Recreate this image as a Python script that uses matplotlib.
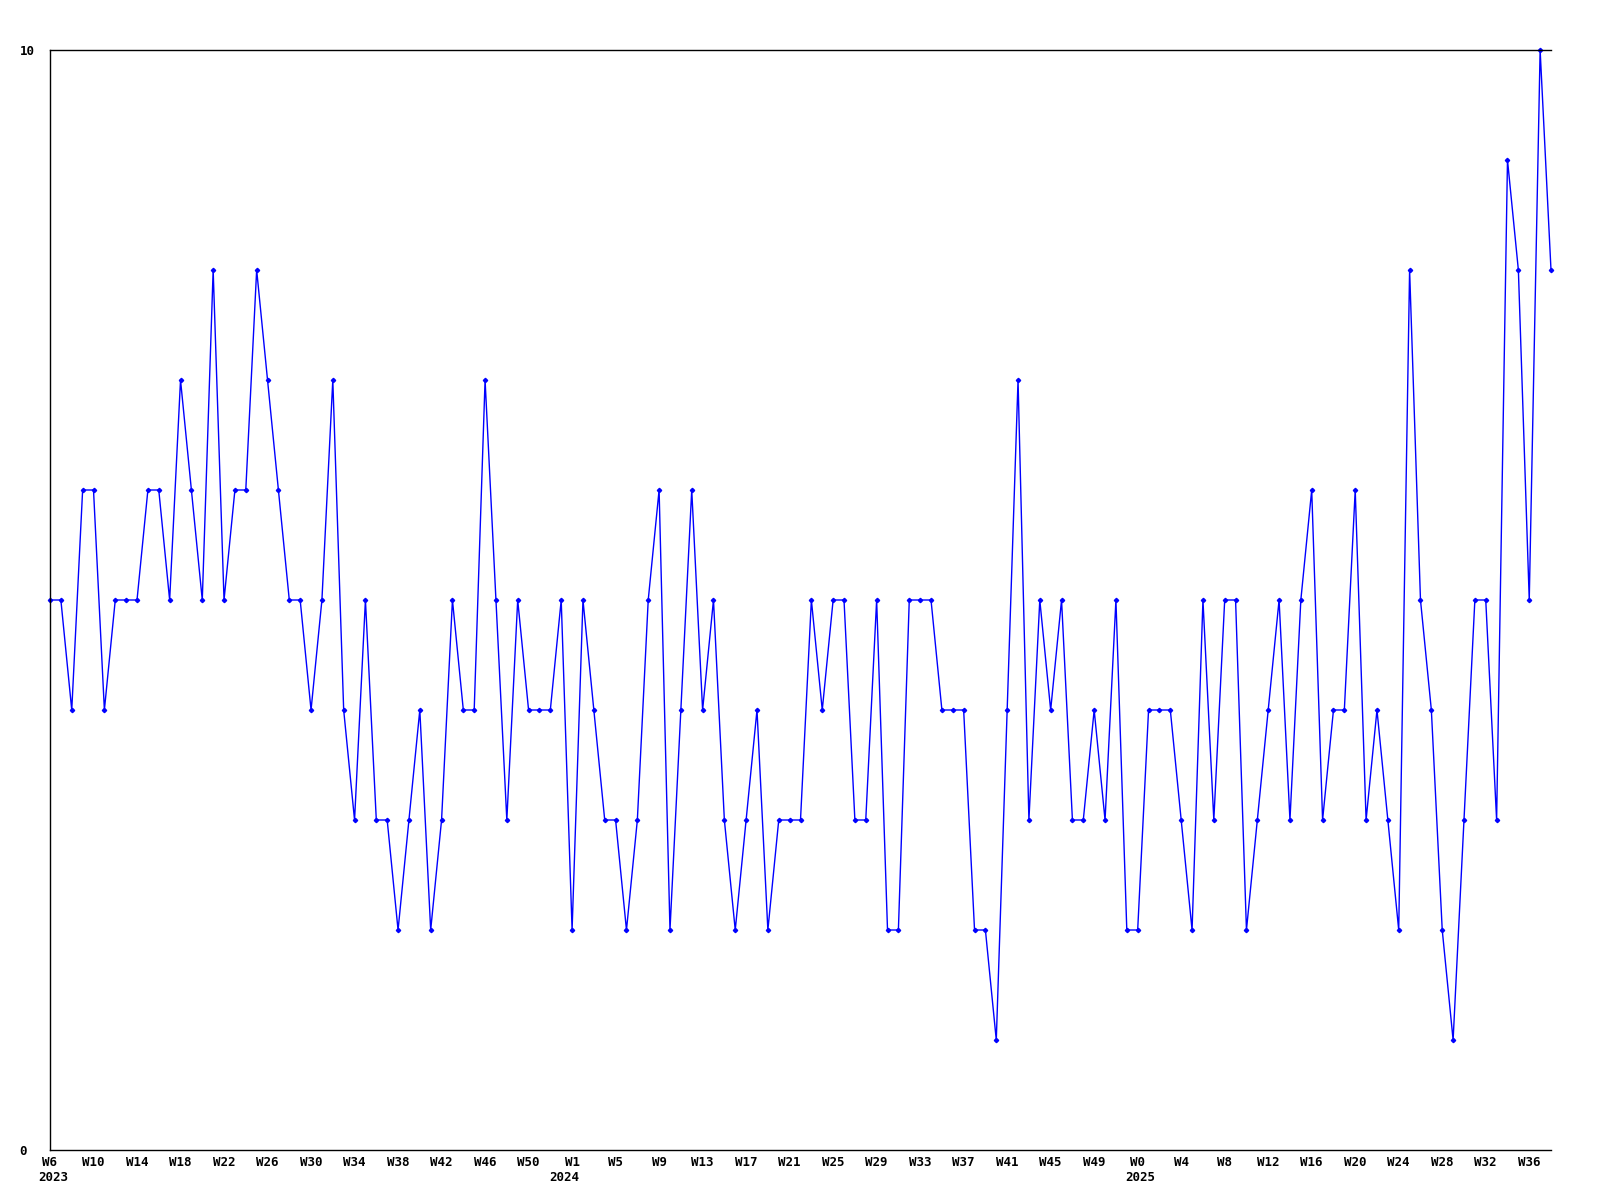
import matplotlib
matplotlib.use("Agg")
import matplotlib.pyplot as plt
import numpy as np

# weekly values, W6 2023 .. W38 2025
values = [5, 5, 4, 6, 6, 4, 5, 5, 5, 6,
          6, 5, 7, 6, 5, 8, 5, 6, 6, 8,
          7, 6, 5, 5, 4, 5, 7, 4, 3, 5,
          3, 3, 2, 3, 4, 2, 3, 5, 4, 4,
          7, 5, 3, 5, 4, 4, 4, 5, 2, 5,
          4, 3, 3, 2, 3, 5, 6, 2, 4, 6,
          4, 5, 3, 2, 3, 4, 2, 3, 3, 3,
          5, 4, 5, 5, 3, 3, 5, 2, 2, 5,
          5, 5, 4, 4, 4, 2, 2, 1, 4, 7,
          3, 5, 4, 5, 3, 3, 4, 3, 5, 2,
          2, 4, 4, 4, 3, 2, 5, 3, 5, 5,
          2, 3, 4, 5, 3, 5, 6, 3, 4, 4,
          6, 3, 4, 3, 2, 8, 5, 4, 2, 1,
          3, 5, 5, 3, 9, 8, 5, 10, 8]

weeks_2023 = [6, 10, 14, 18, 22, 26, 30, 34, 38, 42, 46, 50]
weeks_2024 = [1, 5, 9, 13, 17, 21, 25, 29, 33, 37, 41, 45, 49]
weeks_2025 = [0, 4, 8, 12, 16, 20, 24, 28, 32, 36]
week_labels = ["W%d" % w for w in weeks_2023 + weeks_2024 + weeks_2025]

years = ["2023", "2024", "2025"]
year_starts = [0, 47, 100]   # index of first point of each year

x = np.arange(len(values))

fig = plt.figure(figsize=(16, 12), dpi=100)
ax = fig.add_axes([50 / 1600, 50 / 1200, 1501 / 1600, 1100 / 1200])

ax.plot(x, values, color="#0000ff", linewidth=1.0,
        marker="D", markersize=2.2, clip_on=False)

ax.set_xlim(0, len(values) - 1)
ax.set_ylim(0, 10)

font = dict(family="DejaVu Sans Mono", fontsize=9, fontweight="bold")

ax.set_xticks(x[::4])
ax.set_xticklabels(week_labels, **font)
ax.set_yticks([0, 10])
ax.set_yticklabels(["0", "10"], **font)
for lab in ax.get_yticklabels():
    lab.set_horizontalalignment("left")
ax.tick_params(axis="y", length=0, pad=22)
ax.tick_params(axis="x", length=0, pad=4)

for yr, i in zip(years, year_starts):
    ax.annotate(yr, xy=(x[i], 0), xycoords="data",
                xytext=(2, -15), textcoords="offset points",
                ha="center", va="top", **font)

for side in ["left", "bottom", "top"]:
    ax.spines[side].set_color("black")
    ax.spines[side].set_linewidth(1.0)
ax.spines["right"].set_visible(False)

fig.savefig("out.png", dpi=100)
